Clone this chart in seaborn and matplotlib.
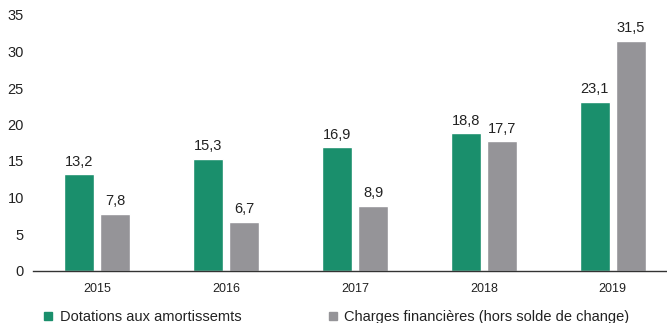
import matplotlib
matplotlib.use("Agg")
import matplotlib.pyplot as plt
import seaborn as sns
import pandas as pd
from matplotlib.lines import Line2D

years = ["2015", "2016", "2017", "2018", "2019"]
dotations = [13.2, 15.3, 16.9, 18.8, 23.1]
charges = [7.8, 6.7, 8.9, 17.7, 31.5]
series_names = ["Dotations aux amortissemts", "Charges financières (hors solde de change)"]
colors = ["#1A8F6C", "#959498"]
yticks = [0, 5, 10, 15, 20, 25, 30, 35]

df = pd.DataFrame({
    "year": years * 2,
    "value": dotations + charges,
    "series": [series_names[0]] * len(years) + [series_names[1]] * len(years),
})

sns.set_theme(style="white")
plt.rcParams["font.family"] = ["Liberation Sans", "DejaVu Sans"]

fig = plt.figure(figsize=(6.67, 3.23), dpi=100)
ax = fig.add_axes([33 / 667, 52.5 / 323, (677 - 33) / 667, 255.5 / 323])

sns.barplot(data=df, x="year", y="value", hue="series", palette=colors,
            width=0.56, gap=0.17, legend=False, ax=ax, saturation=1)

for cont, vals in zip(ax.containers, [dotations, charges]):
    ax.bar_label(cont, labels=[f"{v:.1f}".replace(".", ",") for v in vals],
                 padding=4, fontsize=10.5, color="#222222")

ax.set_xlim(-0.5, 4.5)
ax.set_ylim(0, 35)
ax.set_yticks(yticks)
ax.set_yticklabels([str(t) for t in yticks], fontsize=10.5, color="#222222")
ax.set_xlabel("")
ax.set_ylabel("")
ax.tick_params(axis="x", length=0, labelsize=9, colors="#222222", pad=9)
ax.tick_params(axis="y", length=0, pad=6.5)
ax.set_xticks([-0.5, 0.5, 1.5, 2.5, 3.5], minor=True)
ax.tick_params(axis="x", which="minor", length=4, width=1, color="#333333", direction="out")

for s in ["top", "right", "left"]:
    ax.spines[s].set_visible(False)
ax.spines["bottom"].set_color("#333333")
ax.spines["bottom"].set_linewidth(1)
ax.grid(False)

handles = [Line2D([], [], marker="s", linestyle="", markersize=5.5, color=c) for c in colors]
fig.legend(handles, series_names, loc="lower left", bbox_to_anchor=(30 / 667, -0.045),
           ncol=2, frameon=False, fontsize=10.5, handlelength=0.7, handletextpad=0.45,
           columnspacing=5.9, labelcolor="#222222")

fig.savefig("out.png", dpi=100)
